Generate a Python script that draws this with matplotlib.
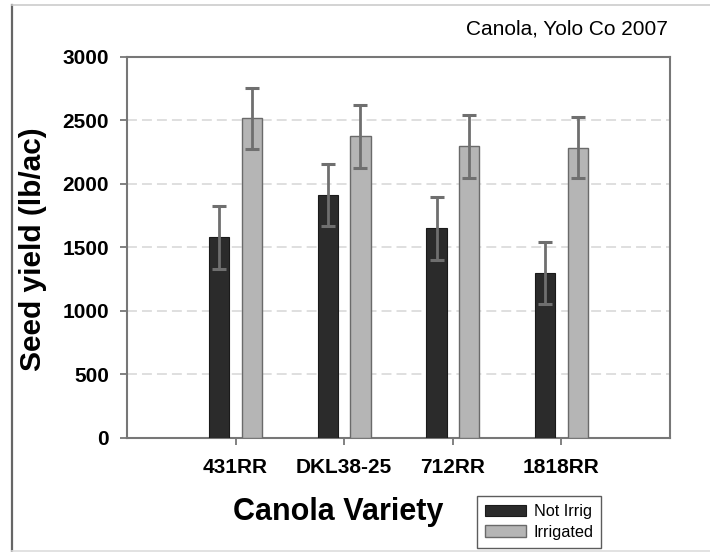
import numpy as np
import matplotlib.pyplot as plt
from matplotlib.lines import Line2D

varieties = ['431RR', 'DKL38-25', '712RR', '1818RR']
not_irrig = [1577, 1909, 1649, 1296]
irrigated = [2517, 2375, 2296, 2286]
err_not = [245, 245, 247, 245]
err_irr = [240, 250, 250, 242]

plt.rcParams['font.family'] = ['Liberation Sans', 'DejaVu Sans']

W, H = 710, 552
fig = plt.figure(figsize=(W / 100, H / 100), dpi=100)
ax = fig.add_axes([127 / W, 1 - 437.5 / H, 543 / W, 380.5 / H])

x = np.arange(len(varieties))
w = 0.185
off = 0.15
ekw = dict(ecolor='#6f6f6f', elinewidth=2.0, capsize=4.7, capthick=2.2)
ax.bar(x - off, not_irrig, w, color='#2b2b2b', edgecolor='#1a1a1a', linewidth=0.8,
       yerr=err_not, error_kw=ekw, label='Not Irrig', zorder=3)
ax.bar(x + off, irrigated, w, color='#b5b5b5', edgecolor='#6a6a6a', linewidth=1.0,
       yerr=err_irr, error_kw=ekw, label='Irrigated', zorder=3)

ax.set_xlim(-1, 4)
ax.set_ylim(0, 3000)
ax.set_yticks(range(0, 3001, 500))
ax.set_xticks(x)
ax.set_xticklabels(varieties)
for y in range(500, 3000, 500):
    ax.axhline(y, color='#d6d6d6', lw=1.1, dashes=(6.5, 3.3), zorder=1)

for s in ax.spines.values():
    s.set_color('#777777')
    s.set_linewidth(1.5)
ax.tick_params(direction='out', length=5, width=1.3, color='#777777', labelsize=15, pad=8)
for lab in ax.get_xticklabels() + ax.get_yticklabels():
    lab.set_fontweight('bold')
ax.tick_params(axis='x', pad=10)

fig.text(33 / W, 1 - 249 / H, 'Seed yield (lb/ac)', fontsize=21.5, fontweight='bold',
         rotation=90, ha='center', va='center')
fig.text(338 / W, 1 - 512 / H, 'Canola Variety', fontsize=22, fontweight='bold', ha='center', va='center')
fig.text(668 / W, 1 - 29 / H, 'Canola, Yolo Co 2007', fontsize=15, ha='right', va='center')

leg = ax.legend(loc='lower left', bbox_to_anchor=(477 / W, 1 - 548 / H, 124 / W, 58 / H),
                bbox_transform=fig.transFigure, frameon=True, fancybox=False, fontsize=11.7,
                handlelength=2.5, handleheight=0.75, handletextpad=0.5, borderpad=0.5,
                labelspacing=0.35, borderaxespad=0, mode='expand')
leg.get_frame().set_edgecolor('#333333')
leg.get_frame().set_linewidth(1.0)

fig.add_artist(Line2D([11.5 / W, 11.5 / W], [0, 1 - 5 / H], transform=fig.transFigure, color='#666666', lw=1.6))
fig.add_artist(Line2D([11.5 / W, 1], [1 - 5 / H, 1 - 5 / H], transform=fig.transFigure, color='#cccccc', lw=1.2))
fig.add_artist(Line2D([11.5 / W, 1], [1 - 551 / H, 1 - 551 / H], transform=fig.transFigure, color='#dddddd', lw=1.2))

fig.savefig('out.png', dpi=100)
